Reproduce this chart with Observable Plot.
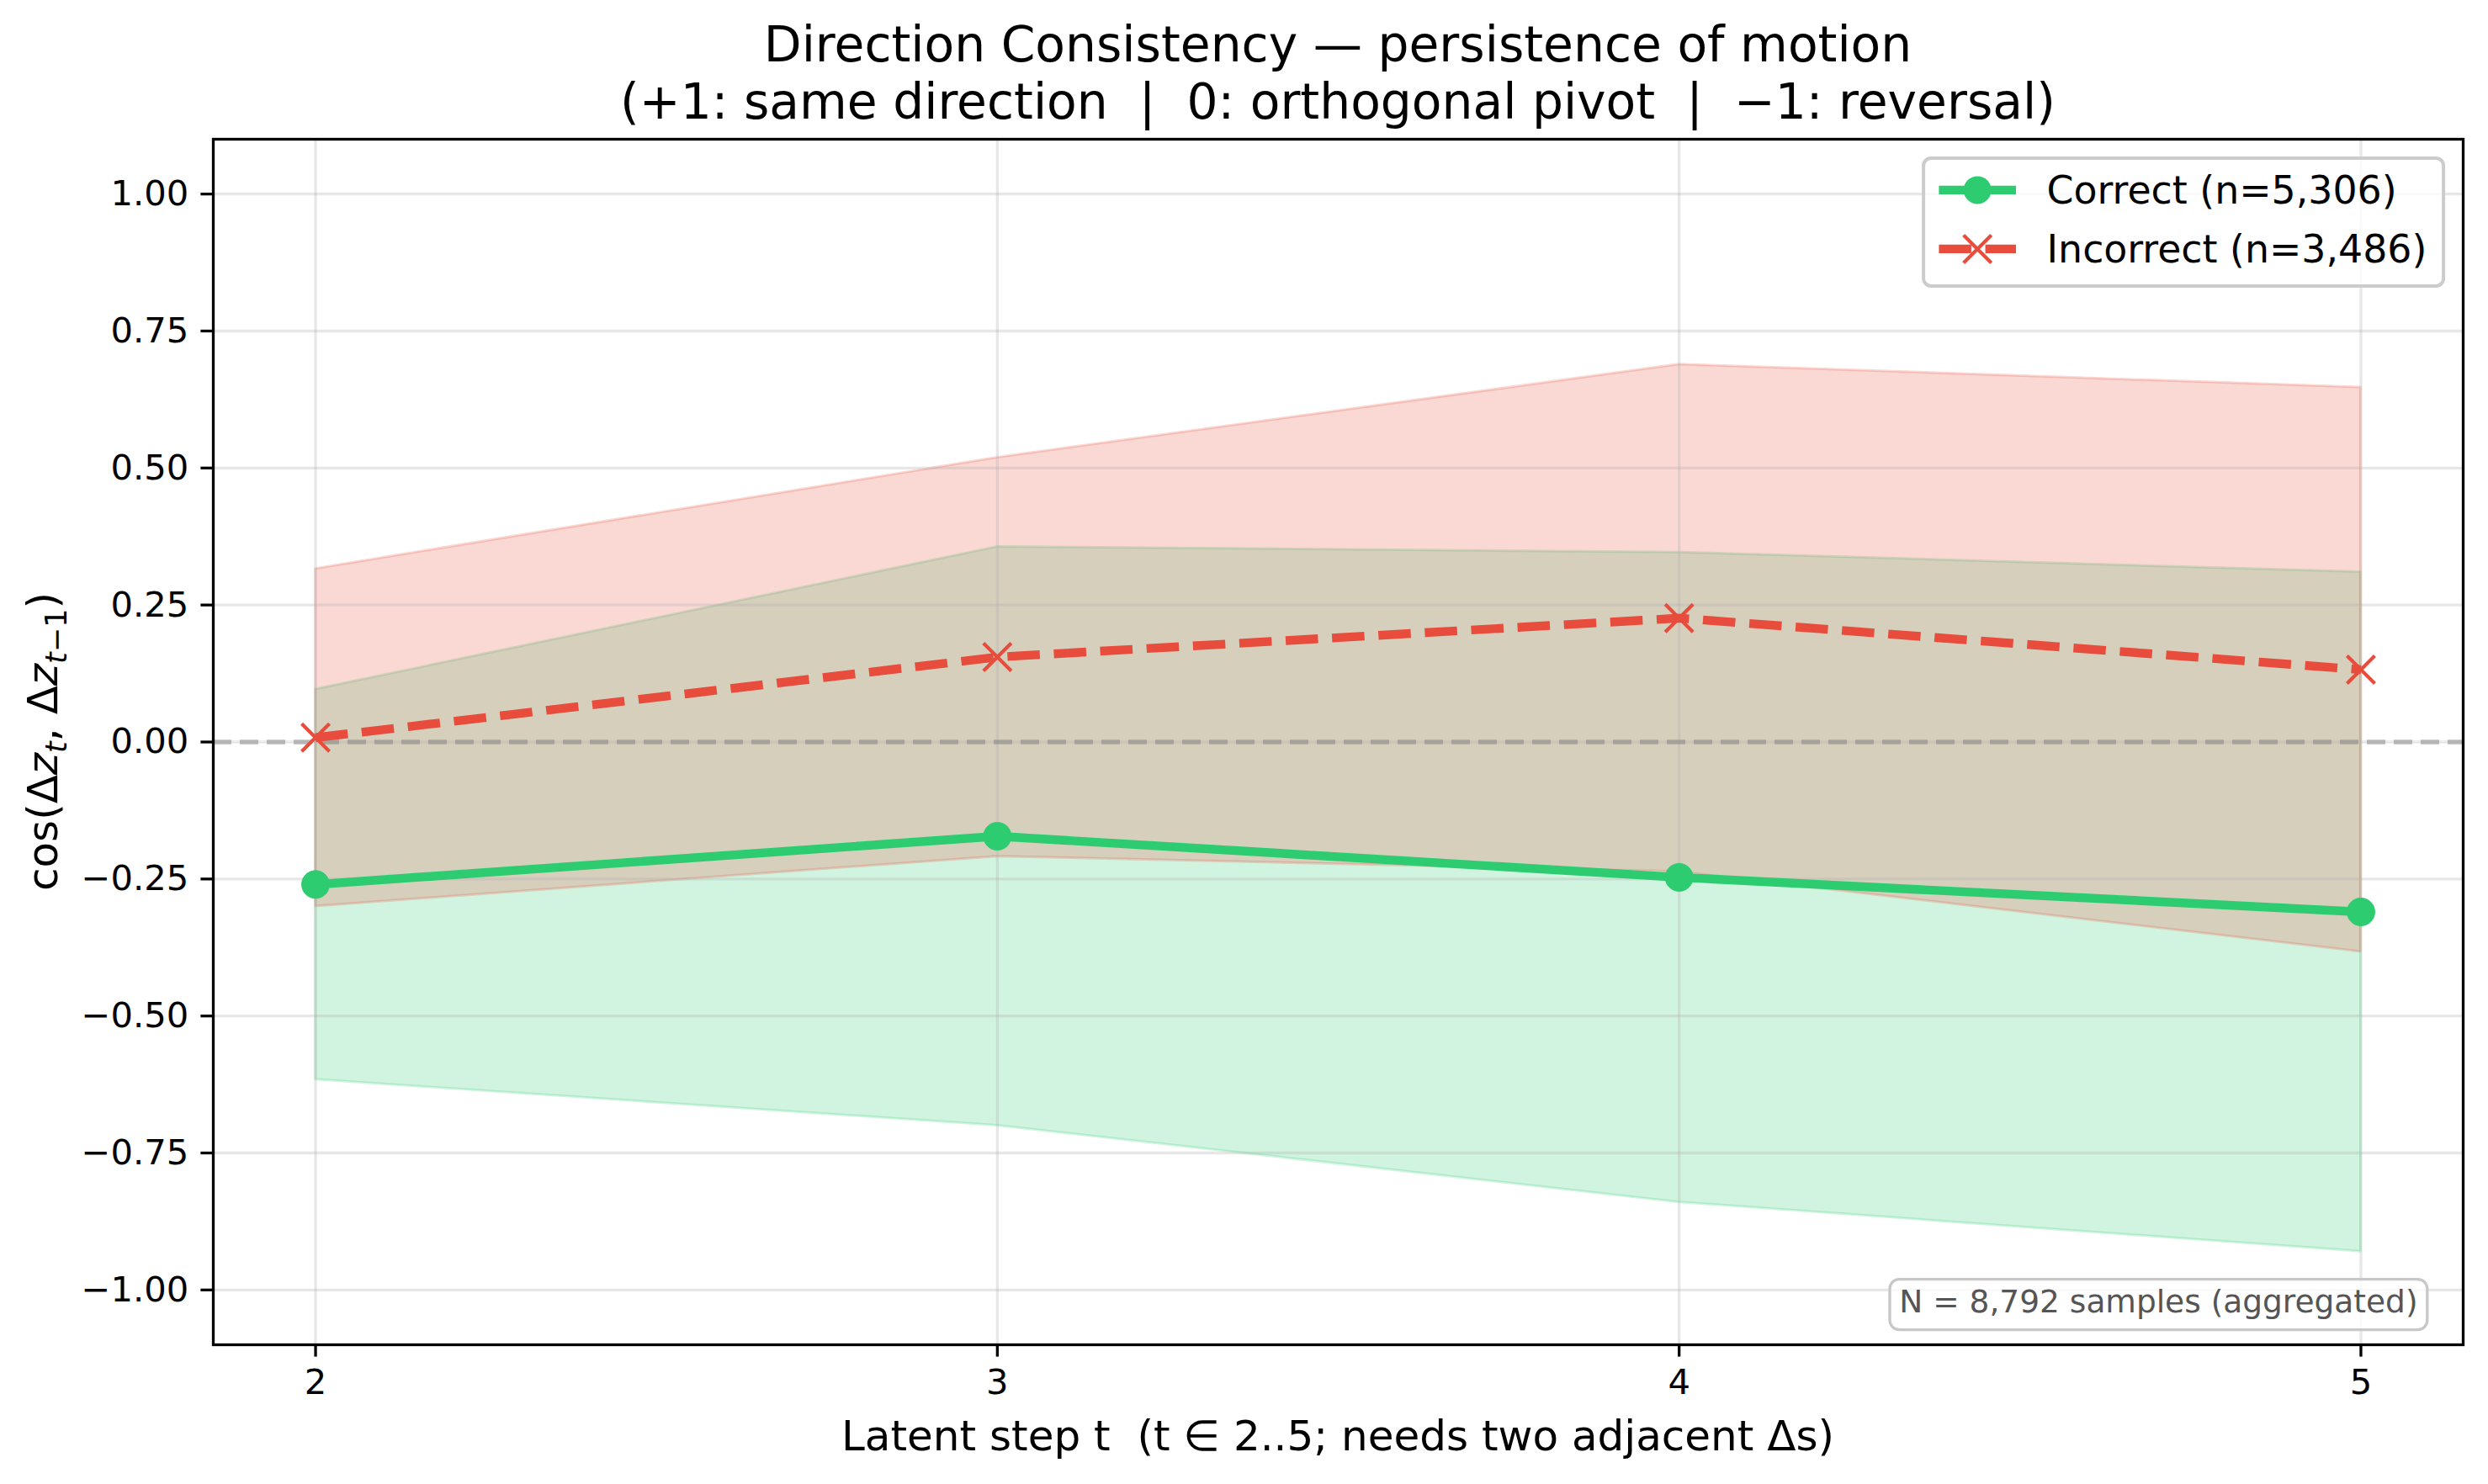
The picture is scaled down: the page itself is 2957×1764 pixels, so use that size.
<!DOCTYPE html>
<html>
<head>
<meta charset="utf-8">
<script src="https://cdn.jsdelivr.net/npm/d3@7"></script>
<script src="https://cdn.jsdelivr.net/npm/@observablehq/plot@0.6"></script>
<style>
  html, body { margin: 0; padding: 0; background: #ffffff; }
  #figure { position: relative; width: 2957px; height: 1764px; background: #ffffff; font-family: "DejaVu Sans", sans-serif; }
  #title { height: 155px; box-sizing: border-box; padding-top: 19px; margin-left: 253px; width: 2674px;
           text-align: center; font-size: 58.3px; line-height: 68px; color: #000; white-space: pre; }
  #chart svg { display: block; }
</style>
</head>
<body>
<div id="figure">
  <div id="title">Direction Consistency — persistence of motion
(+1: same direction  |  0: orthogonal pivot  |  −1: reversal)</div>
  <div id="chart"></div>
</div>
<script>
// Latent steps (t needs two adjacent deltas, so it starts at 2)
const steps = [2, 3, 4, 5];

// Cosine between consecutive latent deltas: mean and standard deviation per step
const correctMean   = [-0.260, -0.172, -0.247, -0.310];
const correctStd    = [ 0.356,  0.528,  0.593,  0.620];
const incorrectMean = [ 0.008,  0.155,  0.226,  0.132];
const incorrectStd  = [ 0.308,  0.364,  0.463,  0.515];

const seriesLabels = ["Correct (n=5,306)", "Incorrect (n=3,486)"];
const sampleNote = "N = 8,792 samples (aggregated)";
const yTicks = [-1.0, -0.75, -0.5, -0.25, 0.0, 0.25, 0.5, 0.75, 1.0];

const green = "#2ecc71";
const red = "#e74c3c";
const font = "DejaVu Sans";
const bandOpacity = 0.22;

const toRows = (mean, std) => steps.map((t, i) => ({t, mean: mean[i], lo: mean[i] - std[i], hi: mean[i] + std[i]}));
const correct = toRows(correctMean, correctStd);
const incorrect = toRows(incorrectMean, incorrectStd);

// "x" marker drawn as two crossing strokes
const crossSymbol = {
  draw(context, size) {
    const r = Math.sqrt(size / Math.PI);
    context.moveTo(-r, -r); context.lineTo(r, r);
    context.moveTo(r, -r); context.lineTo(-r, r);
  }
};

const gridStyle = {stroke: "#b0b0b0", strokeOpacity: 0.3, strokeWidth: 3.3};

const chart = Plot.plot({
  width: 2957,
  height: 1609,
  marginLeft: 253,
  marginRight: 30,
  marginTop: 10,
  marginBottom: 166,
  style: {fontFamily: font, fontSize: "41.7px", color: "#000", background: "#fff", overflow: "visible"},
  x: {domain: [1.85, 5.15], label: null},
  y: {domain: [-1.1, 1.1], label: null},
  marks: [
    Plot.areaY(correct, {x: "t", y1: "lo", y2: "hi", fill: green, fillOpacity: bandOpacity, stroke: green, strokeOpacity: bandOpacity, strokeWidth: 3}),
    Plot.areaY(incorrect, {x: "t", y1: "lo", y2: "hi", fill: red, fillOpacity: bandOpacity, stroke: red, strokeOpacity: bandOpacity, strokeWidth: 3}),
    Plot.gridX(steps, gridStyle),
    Plot.gridY(yTicks, gridStyle),
    Plot.ruleY([0], {stroke: "gray", strokeOpacity: 0.5, strokeWidth: 5.5, strokeDasharray: "22,10"}),
    Plot.line(correct, {x: "t", y: "mean", stroke: green, strokeWidth: 10.4, strokeLinejoin: "round", strokeLinecap: "square"}),
    Plot.dot(correct, {x: "t", y: "mean", r: 16.5, fill: green, stroke: green, strokeWidth: 1}),
    Plot.line(incorrect, {x: "t", y: "mean", stroke: red, strokeWidth: 10.4, strokeDasharray: "38.5,16.7", strokeLinecap: "butt", strokeLinejoin: "round"}),
    Plot.dot(incorrect, {x: "t", y: "mean", r: 16.5, symbol: crossSymbol, fill: "none", stroke: red, strokeWidth: 4.2}),
    Plot.axisX(steps, {tickSize: 14.6, tickPadding: 14.6, strokeWidth: 3.3, fontSize: 41.7, tickFormat: d3.format("d"), label: null}),
    Plot.axisY(yTicks, {tickSize: 14.6, tickPadding: 14.6, strokeWidth: 3.3, fontSize: 41.7, tickFormat: d3.format(".2f"), label: null}),
    Plot.frame({stroke: "#000", strokeWidth: 3.3})
  ]
});
document.getElementById("chart").append(chart);

const svg = d3.select(chart);
const xs = chart.scale("x");
const ys = chart.scale("y");
const [xLeft, xRight] = xs.range;
const [yBottom, yTop] = ys.range;
const plotW = xRight - xLeft;
const plotH = yBottom - yTop;

// y-axis label: cos(Δz_t, Δz_{t−1})
const yLab = svg.append("text")
  .attr("transform", `translate(68,${(yBottom + yTop) / 2}) rotate(-90)`)
  .attr("text-anchor", "middle")
  .attr("font-family", font)
  .attr("font-size", 50)
  .attr("fill", "#000");
const sub = 35, shift = 11;
yLab.append("tspan").text("cos(Δ");
yLab.append("tspan").attr("font-style", "italic").text("z");
yLab.append("tspan").attr("font-style", "italic").attr("font-size", sub).attr("dy", shift).text("t");
yLab.append("tspan").attr("dy", -shift).text(", Δ");
yLab.append("tspan").attr("font-style", "italic").text("z");
yLab.append("tspan").attr("font-style", "italic").attr("font-size", sub).attr("dy", shift).text("t");
yLab.append("tspan").attr("font-size", sub).text("−1");
yLab.append("tspan").attr("dy", -shift).text(")");

// x-axis label
svg.append("text")
  .attr("x", (xLeft + xRight) / 2)
  .attr("y", yBottom + 126)
  .attr("text-anchor", "middle")
  .attr("font-family", font)
  .attr("font-size", 50)
  .attr("fill", "#000")
  .style("white-space", "pre")
  .text("Latent step t  (t ∈ 2..5; needs two adjacent Δs)");

// Legend (upper right inside the axes)
const legFont = 45.8;
const legW = 618, legH = 152;
const legX = xRight - 22.9 - legW;
const legY = yTop + 22.9;
const leg = svg.append("g").attr("text-anchor", "start");
leg.append("rect")
  .attr("x", legX).attr("y", legY).attr("width", legW).attr("height", legH)
  .attr("rx", 9).attr("fill", "#fff").attr("fill-opacity", 0.8)
  .attr("stroke", "#cccccc").attr("stroke-width", 4);
const entries = [
  {label: seriesLabels[0], color: green, dash: null, marker: "circle"},
  {label: seriesLabels[1], color: red, dash: "38.5,16.7", marker: "cross"}
];
entries.forEach((e, i) => {
  const cy = legY + 38 + i * 70;
  const hx0 = legX + 18.3, hx1 = hx0 + 91.6, hxm = (hx0 + hx1) / 2;
  leg.append("line")
    .attr("x1", hx0).attr("x2", hx1).attr("y1", cy).attr("y2", cy)
    .attr("stroke", e.color).attr("stroke-width", 10.4)
    .attr("stroke-dasharray", e.dash)
    .attr("stroke-linecap", "butt");
  if (e.marker === "circle") {
    leg.append("circle").attr("cx", hxm).attr("cy", cy).attr("r", 16.5).attr("fill", e.color);
  } else {
    const r = 16.5;
    leg.append("path")
      .attr("d", `M${hxm - r},${cy - r}L${hxm + r},${cy + r}M${hxm + r},${cy - r}L${hxm - r},${cy + r}`)
      .attr("stroke", e.color).attr("stroke-width", 4.2).attr("fill", "none");
  }
  leg.append("text")
    .attr("x", hx1 + 36.6).attr("y", cy + 16)
    .attr("text-anchor", "start")
    .attr("font-family", font).attr("font-size", legFont).attr("fill", "#000")
    .text(e.label);
});

// Sample-count note (lower right)
const noteSize = 37.5;
const noteRight = xLeft + 0.98 * plotW;
const noteBase = yBottom - 0.02 * plotH - 9;
const noteG = svg.append("g");
const noteRect = noteG.append("rect");
const noteText = noteG.append("text")
  .attr("x", noteRight).attr("y", noteBase)
  .attr("text-anchor", "end")
  .attr("font-family", font).attr("font-size", noteSize).attr("fill", "#555555")
  .text(sampleNote);
const bb = noteText.node().getBBox();
const pad = 11.25;
noteRect
  .attr("x", bb.x - pad).attr("y", noteBase - 28.5 - pad)
  .attr("width", bb.width + 2 * pad).attr("height", 28.5 + 9 + 2 * pad)
  .attr("rx", pad).attr("fill", "#fff").attr("fill-opacity", 0.8)
  .attr("stroke", "#c8c8c8").attr("stroke-width", 3.3);
</script>
</body>
</html>
